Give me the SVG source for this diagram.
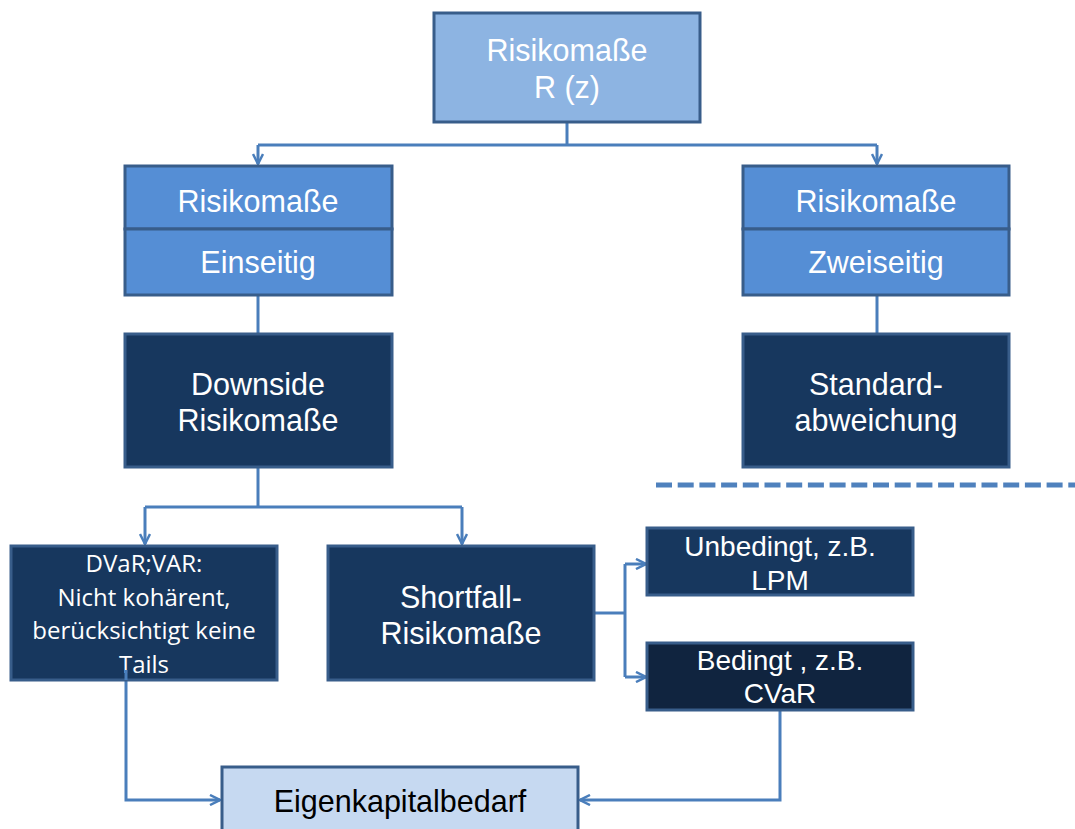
<svg xmlns="http://www.w3.org/2000/svg" width="1075" height="829" viewBox="0 0 1075 829">
<defs>
<marker id="arr" viewBox="0 0 12 12" refX="11" refY="6" markerWidth="12" markerHeight="12" markerUnits="userSpaceOnUse" orient="auto">
<path d="M1,1 L11,6 L1,11" fill="none" stroke="#4A7EBB" stroke-width="2.5" stroke-linejoin="miter"/>
</marker>
</defs>
<style>
.box{stroke:#385D8A;stroke-width:3}
.light{fill:#8DB4E2}
.mid{fill:#558ED5}
.dark{fill:#17375E}
.darker{fill:#10243F}
.pale{fill:#C6D9F1}
.t{font-family:"Liberation Sans",Arial,sans-serif;font-size:30.5px;fill:#fff;text-anchor:middle}
.t28{font-family:"Liberation Sans",Arial,sans-serif;font-size:28px;fill:#fff;text-anchor:middle}
.c{font-family:"Open Sans",Lato,sans-serif;font-size:24px;fill:#fff;text-anchor:middle}
.blk{fill:#000}
.con{fill:none;stroke:#4A7EBB;stroke-width:3}
</style>
<rect width="1075" height="829" fill="#fff"/>
<g id="connectors">
<path class="con" d="M567,122 V145"/>
<path class="con" d="M258,145 H877"/>
<path class="con" d="M258,145 V164" marker-end="url(#arr)"/>
<path class="con" d="M877,145 V164" marker-end="url(#arr)"/>
<path class="con" d="M258,296 V334"/>
<path class="con" d="M877,296 V334"/>
<path class="con" d="M258,467 V507"/>
<path class="con" d="M145,507 H462"/>
<path class="con" d="M145,507 V544" marker-end="url(#arr)"/>
<path class="con" d="M462,507 V544" marker-end="url(#arr)"/>
<path class="con" d="M594,613 H625"/>
<path class="con" d="M625,564 V677"/>
<path class="con" d="M625,564 H646" marker-end="url(#arr)"/>
<path class="con" d="M625,677 H646" marker-end="url(#arr)"/>
<path class="con" d="M126,680 V800 H220" marker-end="url(#arr)"/>
<path class="con" d="M780,711 V800 H580" marker-end="url(#arr)"/>
<path fill="none" stroke="#4F81BD" stroke-width="5" stroke-dasharray="16,5.7" d="M656,485 H1075"/>
</g>
<g id="risikomasse-rz">
<rect class="box light" x="434" y="13" width="266" height="109"/>
<text class="t" x="567" y="61">Risikomaße</text>
<text class="t" x="567" y="98">R (z)</text>
</g>
<g id="einseitig">
<rect class="box mid" x="125" y="166" width="267" height="63"/>
<rect class="box mid" x="125" y="229" width="267" height="66"/>
<text class="t" x="258" y="212">Risikomaße</text>
<text class="t" x="258" y="273">Einseitig</text>
</g>
<g id="zweiseitig">
<rect class="box mid" x="743" y="166" width="266" height="63"/>
<rect class="box mid" x="743" y="229" width="266" height="66"/>
<text class="t" x="876" y="212">Risikomaße</text>
<text class="t" x="876" y="273">Zweiseitig</text>
</g>
<g id="downside">
<rect class="box dark" x="125" y="334" width="267" height="133"/>
<text class="t" x="258" y="395">Downside</text>
<text class="t" x="258" y="431">Risikomaße</text>
</g>
<g id="standardabweichung">
<rect class="box dark" x="743" y="334" width="266" height="133"/>
<text class="t" x="876" y="395">Standard-</text>
<text class="t" x="876" y="431">abweichung</text>
</g>
<g id="dvar">
<rect class="box dark" x="11" y="546" width="266" height="134"/>
<text class="c" x="144" y="572">DVaR;VAR:</text>
<text class="c" x="144" y="606">Nicht kohärent,</text>
<text class="c" x="144" y="639">berücksichtigt keine</text>
<text class="c" x="144" y="673">Tails</text>
<path class="con" d="M126,670 V680"/>
</g>
<g id="shortfall">
<rect class="box dark" x="328" y="546" width="266" height="134"/>
<text class="t" x="461" y="608">Shortfall-</text>
<text class="t" x="461" y="644">Risikomaße</text>
</g>
<g id="unbedingt">
<rect class="box dark" x="647" y="528" width="266" height="67"/>
<text class="t28" x="780" y="556">Unbedingt, z.B.</text>
<text class="t28" x="780" y="590">LPM</text>
</g>
<g id="bedingt">
<rect class="box darker" x="647" y="643" width="266" height="67"/>
<text class="t28" x="780" y="670">Bedingt , z.B.</text>
<text class="t28" x="780" y="703">CVaR</text>
</g>
<g id="eigenkapitalbedarf">
<rect class="box pale" x="222" y="767" width="356" height="70"/>
<text class="t blk" x="400" y="812">Eigenkapitalbedarf</text>
</g>
</svg>
